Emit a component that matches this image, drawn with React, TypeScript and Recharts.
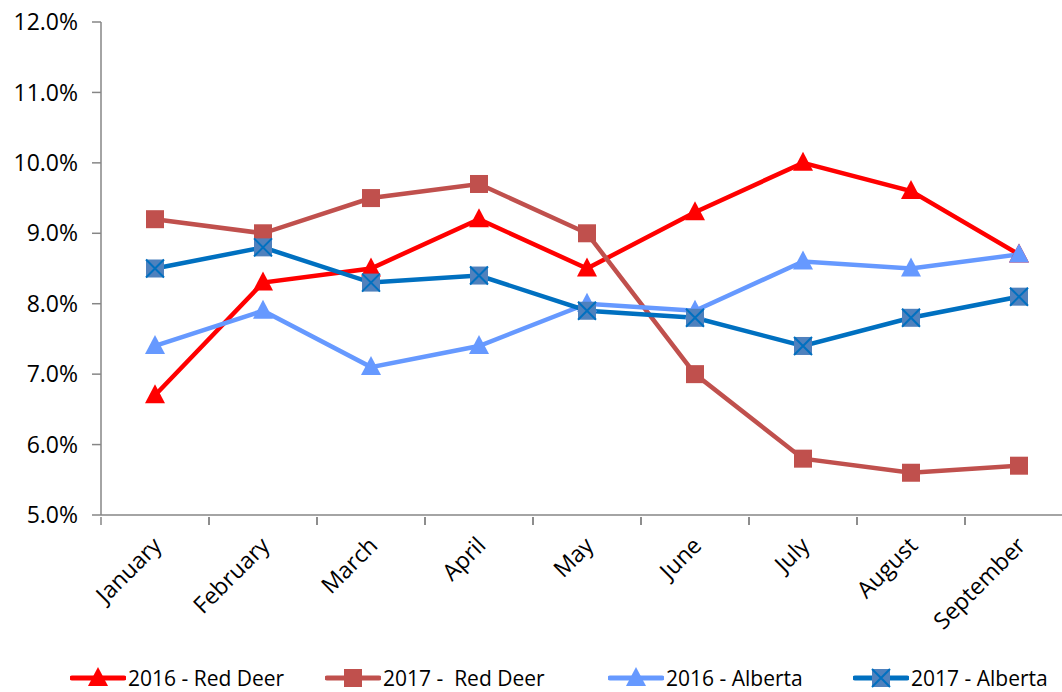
import { LineChart, Line, XAxis, YAxis, Legend } from 'recharts'

const months = ['January', 'February', 'March', 'April', 'May', 'June', 'July', 'August', 'September']
const redDeer2016 = [6.7, 8.3, 8.5, 9.2, 8.5, 9.3, 10.0, 9.6, 8.7]
const redDeer2017 = [9.2, 9.0, 9.5, 9.7, 9.0, 7.0, 5.8, 5.6, 5.7]
const alberta2016 = [7.4, 7.9, 7.1, 7.4, 8.0, 7.9, 8.6, 8.5, 8.7]
const alberta2017 = [8.5, 8.8, 8.3, 8.4, 7.9, 7.8, 7.4, 7.8, 8.1]
const yTicks = [5, 6, 7, 8, 9, 10, 11, 12]

const data = months.map((m, i) => ({
  month: m,
  rd16: redDeer2016[i],
  rd17: redDeer2017[i],
  ab16: alberta2016[i],
  ab17: alberta2017[i],
}))

const FONT = '"Open Sans", sans-serif'
const FS = 23
const AXIS = '#868686'
const HALF_BAND = 54

type Shape = 'triangle' | 'square' | 'xsquare'

const series = [
  { key: 'rd16', name: '2016 - Red Deer', color: '#ff0000', fill: '#ff0000', shape: 'triangle' as Shape, left: 70 },
  { key: 'rd17', name: '2017 -  Red Deer', color: '#c0504d', fill: '#c0504d', shape: 'square' as Shape, left: 325 },
  { key: 'ab16', name: '2016 - Alberta', color: '#6699ff', fill: '#6699ff', shape: 'triangle' as Shape, left: 608 },
  { key: 'ab17', name: '2017 - Alberta', color: '#0070c0', fill: '#4f81bd', shape: 'xsquare' as Shape, left: 853 },
]

function Marker({ cx, cy, shape, color, fill }: { cx: number; cy: number; shape: Shape; color: string; fill: string }) {
  if (shape === 'triangle') {
    return <polygon points={`${cx},${cy - 11} ${cx + 10},${cy + 8} ${cx - 10},${cy + 8}`} fill={fill} />
  }
  const s = 9
  return (
    <g>
      <rect x={cx - s} y={cy - s} width={s * 2} height={s * 2} fill={fill} />
      {shape === 'xsquare' && (
        <path d={`M${cx - s},${cy - s}L${cx + s},${cy + s}M${cx + s},${cy - s}L${cx - s},${cy + s}`} stroke={color} strokeWidth={2} />
      )}
    </g>
  )
}

// category label sits at the band centre, tick marks at the band edges
const MonthTick = ({ x, y, payload }: any) => (
  <g>
    <line x1={x - HALF_BAND} y1={y - 8} x2={x - HALF_BAND} y2={y} stroke={AXIS} strokeWidth={1.5} />
    <line x1={x + HALF_BAND} y1={y - 8} x2={x + HALF_BAND} y2={y} stroke={AXIS} strokeWidth={1.5} />
    <g transform={`translate(${x + 8},${y + 22})`}>
      <text x={0} y={0} textAnchor="end" transform="rotate(-45)" fontFamily={FONT} fontSize={FS} fill="#000">
        {payload.value}
      </text>
    </g>
  </g>
)

const LegendContent = () => (
  <div style={{ position: 'relative', height: 26, fontFamily: FONT, fontSize: 21, color: '#000' }}>
    {series.map((s) => (
      <div key={s.key} style={{ position: 'absolute', left: s.left, top: 0, display: 'flex', alignItems: 'center' }}>
        <svg width={56} height={26}>
          <line x1={2} y1={13} x2={54} y2={13} stroke={s.color} strokeWidth={5} strokeLinecap="round" />
          <Marker cx={28} cy={13} shape={s.shape} color={s.color} fill={s.fill} />
        </svg>
        <span style={{ marginLeft: 2, whiteSpace: 'pre', lineHeight: '26px' }}>{s.name}</span>
      </div>
    ))}
  </div>
)

export default function App() {
  return (
    <div style={{ position: 'absolute', left: 0, top: 0, width: 1062, height: 692, overflow: 'hidden', background: '#fff' }}>
      <LineChart width={1090} height={692} data={data} margin={{ top: 22, right: 17, bottom: 0, left: 0 }}>
        <XAxis
          dataKey="month"
          tick={<MonthTick />}
          interval={0}
          height={177}
          stroke={AXIS}
          strokeWidth={1.5}
          tickLine={false}
          tickSize={8}
          padding={{ left: HALF_BAND, right: HALF_BAND }}
        />
        <YAxis
          domain={[5, 12]}
          ticks={yTicks}
          width={101}
          stroke={AXIS}
          strokeWidth={1.5}
          tickSize={9}
          tickMargin={14}
          tickFormatter={(v: number) => `${v.toFixed(1)}%`}
          tick={{ fill: '#000', fontFamily: FONT, fontSize: FS }}
        />
        <Legend
          layout="horizontal"
          verticalAlign="middle"
          align="center"
          content={<LegendContent />}
          wrapperStyle={{ top: 665, left: 0, width: 1062 }}
        />
        {series.map((s) => (
          <Line
            key={s.key}
            dataKey={s.key}
            name={s.name}
            stroke={s.color}
            strokeWidth={4.5}
            isAnimationActive={false}
            dot={(p: any) => <Marker key={`${s.key}-${p.index}`} cx={p.cx} cy={p.cy} shape={s.shape} color={s.color} fill={s.fill} />}
            activeDot={false}
          />
        ))}
      </LineChart>
    </div>
  )
}
